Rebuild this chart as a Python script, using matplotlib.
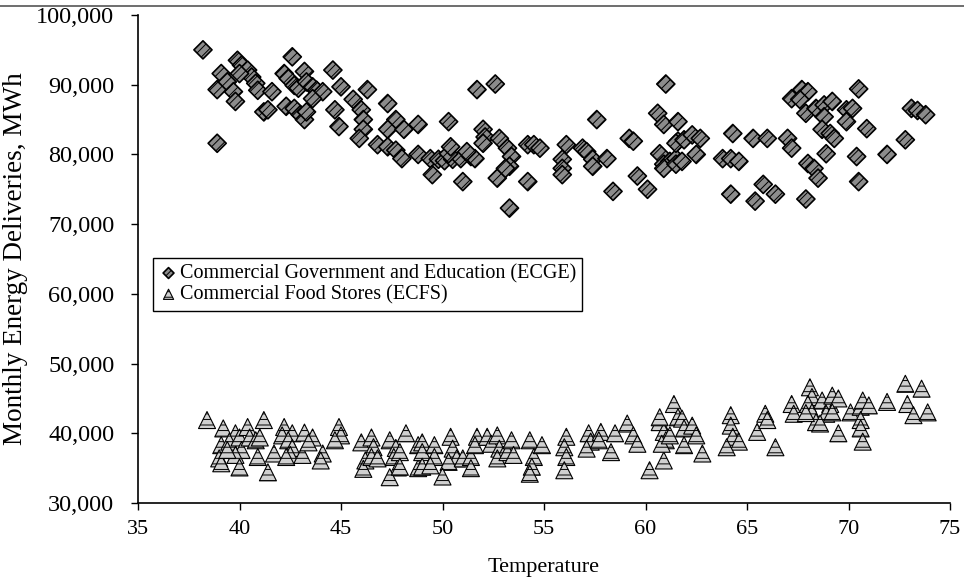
import matplotlib.pyplot as plt
from matplotlib.lines import Line2D
from matplotlib.ticker import StrMethodFormatter

plt.rcParams['font.family'] = ['Liberation Serif', 'DejaVu Serif']
plt.rcParams['hatch.linewidth'] = 0.7

# Commercial Government and Education (ECGE): temperature, MWh
ecge_temp = [38.2, 38.9, 39.9, 40.1, 40.4, 40.6, 40.8, 40.9, 40.0, 39.1, 38.9, 39.4, 39.7, 39.8,
             41.6, 41.2, 41.4, 42.6, 42.2, 42.4, 42.7, 42.9, 43.2, 43.3, 43.6, 43.8, 44.1, 43.6,
             42.3, 42.7, 43.0, 43.2, 43.3, 44.6, 45.0, 44.7, 44.9, 45.6, 46.0, 46.1, 46.1, 46.3,
             45.9, 46.8, 47.3, 47.7, 48.0, 47.3, 47.7, 47.3, 48.1, 48.8, 48.8,
             49.4, 49.8, 50.1, 50.5, 50.9, 51.4, 51.6, 50.3, 51.2, 49.5, 51.0, 50.3, 50.4, 51.7,
             52.6, 52.0, 52.1, 52.0, 52.8, 52.7, 53.2, 53.4, 53.3, 53.1, 53.3, 54.2, 54.5, 54.8,
             54.2, 56.1, 55.9, 55.9, 55.9, 56.9, 57.1, 57.4, 57.4, 57.6, 58.1, 58.4, 59.2, 59.4,
             59.6, 60.1, 61.0, 60.6, 60.9, 60.7, 60.9, 61.2, 61.5, 61.6, 61.6, 60.9, 61.5, 61.8,
             61.5, 61.9, 62.3, 62.7, 62.5, 64.3, 63.8, 64.2, 64.6, 64.2, 65.3, 66.0, 65.8, 65.4,
             66.4, 67.0, 67.2, 67.2, 67.9, 67.7, 68.0, 67.6, 67.9, 68.4, 68.8, 69.2, 68.8, 68.7,
             69.1, 69.3, 68.9, 68.0, 68.3, 68.5, 69.9, 70.2, 69.9, 70.5, 70.9, 70.4, 70.5, 71.9,
             72.8, 73.1, 73.4, 73.8]
ecge_mwh = [95000, 81600, 93500, 92800, 92100, 91100, 90200, 89200, 91600, 91600, 89300, 90400, 89000, 87600,
            89000, 86100, 86400, 94000, 91600, 90900, 89900, 89500, 91900, 90400, 89700, 89200, 89000, 88000,
            86900, 86600, 85700, 85000, 86100, 92100, 89700, 86400, 84000, 87900, 86400, 85000, 83600, 89300,
            82300, 81400, 81100, 80600, 79400, 87300, 85000, 83600, 83600, 84300, 80000,
            79400, 79300, 79100, 79300, 79400, 79700, 79400, 80100, 80400, 77100, 76100, 84700, 81100, 89300,
            90100, 83600, 82500, 81600, 82300, 76600, 80900, 79700, 78300, 78000, 72300, 81400, 81400, 80900,
            76100, 81400, 79300, 78000, 77100, 80900, 80400, 79300, 78300, 85000, 79400, 74700, 82300, 81900,
            76900, 75000, 90100, 85900, 84300, 80100, 78600, 79000, 79400, 84700, 81900, 78000, 78600, 79000,
            81600, 82100, 82800, 82300, 80000, 83000, 79400, 79400, 79000, 74300, 82300, 82300, 75700, 73300,
            74300, 82300, 80900, 88000, 73600, 89300, 89000, 87900, 85900, 86600, 87100, 87600, 85400, 83600,
            83000, 82300, 80100, 78700, 78000, 76600, 86400, 86600, 84700, 89400, 83700, 79700, 76100, 80000,
            82100, 86600, 86300, 85700]

# Commercial Food Stores (ECFS): temperature, MWh
ecfs_temp = [38.4, 39.2, 39.1, 39.0, 39.1, 39.8, 39.5, 40.0, 40.1, 39.8, 39.4, 40.0, 40.4, 40.5, 40.8,
             41.0, 41.2, 40.9, 41.4, 41.7, 42.2, 42.1, 42.6, 42.4, 42.6, 42.5, 43.1, 42.3, 43.2, 43.6,
             43.4, 44.1, 44.0, 44.9, 45.0, 44.7, 46.0, 46.5, 46.6, 46.2, 46.1, 46.5, 46.8, 47.4, 47.7,
             47.6, 47.8, 47.4, 48.2, 48.8, 48.8, 47.9, 47.9, 49.0, 49.0, 49.0, 49.6, 49.6, 49.4, 50.4,
             50.5, 50.7, 50.3, 50.0, 51.0, 51.4, 51.4, 51.7, 51.6, 52.2, 52.4, 52.7, 52.8, 53.0, 52.7,
             53.2, 53.4, 53.5, 54.3, 54.5, 54.4, 54.3, 54.9, 56.1, 56.0, 56.1, 56.0, 57.2, 57.3, 57.1,
             57.8, 57.7, 58.3, 58.5, 59.1, 59.4, 59.6, 60.2, 60.9, 60.7, 60.9, 61.0, 61.4, 61.6, 60.7,
             60.8, 61.2, 61.8, 61.9, 61.9, 62.3, 62.5, 62.8, 64.2, 64.2, 64.3, 64.6, 64.0, 65.5, 65.9,
             66.0, 66.4, 67.2, 67.3, 68.1, 68.2, 68.0, 68.2, 68.4, 67.9, 68.7, 69.1, 69.2, 69.5, 68.9,
             68.6, 69.2, 69.5, 70.1, 70.6, 70.7, 71.0, 70.6, 70.6, 70.7, 71.9, 72.8, 73.6, 72.9, 73.2,
             73.9]
ecfs_mwh = [41900, 40700, 38300, 36400, 35700, 40000, 38800, 39400, 37600, 36900, 37600, 35100, 40900, 39400, 39000,
            39400, 41900, 36600, 34400, 37100, 40900, 39700, 40000, 39000, 37900, 36900, 36900, 36600, 40100, 39400,
            38700, 37100, 36100, 40900, 39700, 39000, 38700, 39400, 38000, 36100, 34900, 36600, 36400, 39000, 37900,
            36600, 35100, 33700, 40000, 38300, 35000, 37300, 35200, 38700, 37300, 35200, 38300, 36600, 35400, 39500,
            37800, 36400, 35900, 33800, 36400, 36600, 35000, 39500, 38300, 39500, 38500, 39700, 37800, 36900, 36400,
            37300, 39000, 36900, 39000, 36600, 35200, 34200, 38300, 39500, 38000, 36600, 34700, 40000, 38800, 37800,
            40200, 39000, 37300, 40000, 41400, 39700, 38500, 34700, 36100, 41600, 40200, 39000, 44200, 42300, 42300,
            38500, 39700, 42100, 40700, 38300, 41100, 39700, 37100, 42600, 41100, 39500, 38800, 38000, 40200, 42800,
            41900, 38000, 44200, 42800, 46600, 45200, 44200, 43000, 41600, 42900, 44700, 44200, 45400, 45000, 42800,
            41400, 43000, 40000, 43000, 43800, 44700, 44000, 41900, 40700, 38800, 44500, 47100, 46400, 44200, 42600,
            43000]

fig = plt.figure(figsize=(9.64, 5.81), dpi=100)
ax = fig.add_axes([138 / 964, 78 / 581, 812 / 964, 488 / 581])

ax.scatter(ecge_temp, ecge_mwh, marker='D', s=85, facecolor='#8c8c8c', edgecolor='black',
           linewidth=1.2, hatch='////', label='Commercial Government and Education (ECGE)', zorder=3)
ax.scatter(ecfs_temp, ecfs_mwh, marker='^', s=150, facecolor='#d0d0d0', edgecolor='black',
           linewidth=0.8, hatch='---', label='Commercial Food Stores (ECFS)', zorder=3)

ax.set_xlim(35, 75)
ax.set_ylim(30000, 100000)
ax.set_xticks(range(35, 76, 5))
ax.set_yticks(range(30000, 100001, 10000))
ax.yaxis.set_major_formatter(StrMethodFormatter('{x:,.0f}'))
ax.tick_params(direction='out', length=5, width=1, colors='black')
ax.tick_params(axis='x', labelsize=16, pad=7)
ax.tick_params(axis='y', labelsize=17.5, pad=12)

for side in ['top', 'right']:
    ax.spines[side].set_visible(False)
for side in ['left', 'bottom']:
    ax.spines[side].set_linewidth(1.2)

ax.set_xlabel('Temperature', fontsize=16, labelpad=14)
ax.set_ylabel('Monthly Energy Deliveries, MWh', fontsize=19.5, labelpad=6)

leg = ax.legend(loc='upper left', bbox_to_anchor=(0.019, 0.502), borderaxespad=0,
                fontsize=14.5, markerscale=0.6, handletextpad=0.1, handlelength=0.9,
                borderpad=0.3, labelspacing=0.1, fancybox=False, framealpha=1)
leg.get_frame().set_edgecolor('black')
leg.get_frame().set_linewidth(1.0)

# scan edge line at top of page
fig.add_artist(Line2D([0, 1], [1 - 6 / 581, 1 - 6 / 581], color='#555555', linewidth=1.2))

fig.savefig('out.png', dpi=100)
